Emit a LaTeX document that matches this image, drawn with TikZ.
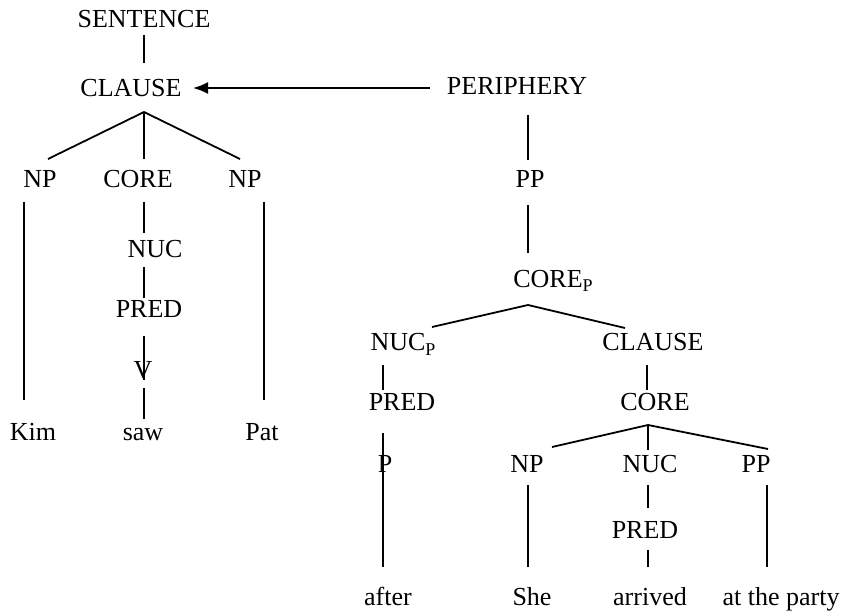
\documentclass[tikz,border=0pt]{standalone}
\usepackage{fontspec}
\setmainfont{Liberation Serif}
\usepackage{tikz}
\usetikzlibrary{arrows.meta}
% small lowered P for the periphery labels
\newcommand{\lowP}{\raisebox{-5pt}{\fontsize{18}{18}\selectfont P}}

\begin{document}
\begin{tikzpicture}[x=1pt,y=-1pt,line width=1.8pt,
		every node/.style={inner sep=0pt,anchor=base,font=\fontsize{26}{30}\selectfont}]
		\useasboundingbox (0,0) rectangle (844,615);
		%Clause
		\node (sent) at (144,28) {SENTENCE};
		\node (clauseA) at (131,97) {CLAUSE};
		\node (npA) at (40,188) {NP};
		\node (coreA) at (138,188) {CORE};
		\node (npB) at (245,188) {NP};
		\node (nucA) at (155,257) {NUC};
		\node (predA) at (149,317) {PRED};
		\node (vA) at (143,378) {V};
		\node (kim) at (33,440) {Kim};
		\node (saw) at (143,440) {saw};
		\node (pat) at (262,440) {Pat};
		%Periphery
		\node (peri) at (517,95) {PERIPHERY};
		\node (ppA) at (530,188) {PP};
		\node (coreP) at (553,287) {CORE\lowP};
		\node (nucP) at (403,350) {NUC\lowP};
		\node (clauseB) at (653,350) {CLAUSE};
		\node (predB) at (402,410) {PRED};
		\node (coreB) at (655,410) {CORE};
		\node (pB) at (385,472) {P};
		\node (npC) at (527,472) {NP};
		\node (nucB) at (650,472) {NUC};
		\node (ppB) at (756,472) {PP};
		\node (predC) at (645,538) {PRED};
		\node (after) at (388,605) {after};
		\node (she) at (532,605) {She};
		\node (arrived) at (650,605) {arrived};
		\node (party) at (781,605) {at the party};
		%Forks
		\coordinate (forkA) at ([xshift=13pt,yshift=-15pt]clauseA.base);
		\coordinate (forkP) at ([xshift=-25pt,yshift=-18pt]coreP.base);
		\coordinate (forkB) at ([xshift=-7pt,yshift=-15pt]coreB.base);
		%Left tree
		\draw ([yshift=-7pt]sent.base) -- ([xshift=13pt,yshift=34pt]clauseA.base);
		\draw (forkA) -- ([xshift=8pt,yshift=29pt]npA.base);
		\draw (forkA) -- ([xshift=6pt,yshift=29pt]coreA.base);
		\draw (forkA) -- ([xshift=-5pt,yshift=29pt]npB.base);
		\draw ([xshift=-16pt,yshift=-14pt]npA.base) -- ([xshift=-9pt,yshift=40pt]kim.base);
		\draw ([xshift=6pt,yshift=-14pt]coreA.base) -- ([xshift=-11pt,yshift=24pt]nucA.base);
		\draw ([xshift=-11pt,yshift=-10pt]nucA.base) -- ([xshift=-5pt,yshift=19pt]predA.base);
		\draw ([xshift=-5pt,yshift=-19pt]predA.base) -- ([xshift=1pt,yshift=-2pt]vA.base);
		\draw ([xshift=1pt,yshift=-10pt]vA.base) -- ([xshift=1pt,yshift=21pt]saw.base);
		\draw ([xshift=19pt,yshift=-14pt]npB.base) -- ([xshift=2pt,yshift=40pt]pat.base);
		%Arrow
		\draw [-{Latex[length=15pt,width=12pt]}] ([xshift=-87pt,yshift=7pt]peri.base) -- ([xshift=62pt,yshift=9pt]clauseA.base);
		%Right tree
		\draw ([xshift=11pt,yshift=-20pt]peri.base) -- ([xshift=-2pt,yshift=28pt]ppA.base);
		\draw ([xshift=-2pt,yshift=-17pt]ppA.base) -- ([xshift=-25pt,yshift=34pt]coreP.base);
		\draw (forkP) -- ([xshift=29pt,yshift=23pt]nucP.base);
		\draw (forkP) -- ([xshift=-28pt,yshift=22pt]clauseB.base);
		\draw ([xshift=-20pt,yshift=-15pt]nucP.base) -- ([xshift=-19pt,yshift=20pt]predB.base);
		\draw ([xshift=-19pt,yshift=-23pt]predB.base) -- ([xshift=-2pt]pB.base) -- ([xshift=-5pt,yshift=38pt]after.base);
		\draw ([xshift=-6pt,yshift=-15pt]clauseB.base) -- ([xshift=-8pt,yshift=20pt]coreB.base);
		\draw (forkB) -- ([xshift=25pt,yshift=25pt]npC.base);
		\draw (forkB) -- ([xshift=-2pt,yshift=22pt]nucB.base);
		\draw (forkB) -- ([xshift=12pt,yshift=23pt]ppB.base);
		\draw ([xshift=1pt,yshift=-13pt]npC.base) -- ([xshift=-4pt,yshift=38pt]she.base);
		\draw ([xshift=-2pt,yshift=-13pt]nucB.base) -- ([xshift=3pt,yshift=30pt]predC.base);
		\draw ([xshift=3pt,yshift=-12pt]predC.base) -- ([xshift=-2pt,yshift=38pt]arrived.base);
		\draw ([xshift=11pt,yshift=-13pt]ppB.base) -- ([xshift=-14pt,yshift=38pt]party.base);
	\end{tikzpicture}
\end{document}
